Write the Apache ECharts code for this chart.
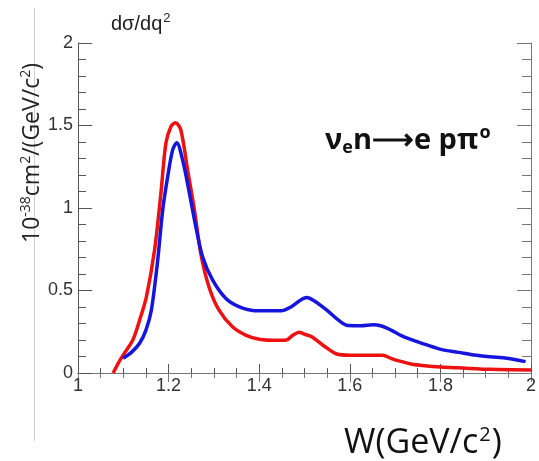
<!DOCTYPE html>
<html>
<head>
<meta charset="utf-8">
<script src="https://cdn.jsdelivr.net/npm/echarts@6/dist/echarts.min.js"></script>
<style>
  html, body { margin: 0; padding: 0; background: #fff; }
  #chart { width: 539px; height: 461px; }
</style>
</head>
<body>
<div id="chart"></div>
<script>
// W (GeV/c^2) and dσ/dq² (10^-38 cm²/(GeV/c²)) for the two model curves
const redW = [1.0775, 1.09, 1.10, 1.121, 1.136, 1.151, 1.169, 1.183, 1.194, 1.205, 1.215, 1.227, 1.242, 1.257, 1.271, 1.289, 1.311, 1.341, 1.37, 1.40, 1.44, 1.46, 1.475, 1.488, 1.50, 1.516, 1.54, 1.571, 1.60, 1.673, 1.69, 1.706, 1.735, 1.765, 1.80, 1.838, 1.911, 2.0];
const redV = [0, 0.065, 0.11, 0.20, 0.32, 0.462, 0.745, 1.089, 1.392, 1.493, 1.517, 1.473, 1.23, 0.988, 0.725, 0.523, 0.382, 0.28, 0.23, 0.205, 0.198, 0.20, 0.23, 0.247, 0.235, 0.22, 0.17, 0.115, 0.108, 0.108, 0.09, 0.075, 0.055, 0.044, 0.036, 0.032, 0.022, 0.018];

const blueW = [1.0995, 1.118, 1.136, 1.150, 1.162, 1.176, 1.187, 1.198, 1.209, 1.218, 1.231, 1.246, 1.26, 1.275, 1.297, 1.326, 1.355, 1.39, 1.45, 1.47, 1.49, 1.505, 1.52, 1.55, 1.575, 1.596, 1.625, 1.651, 1.67, 1.691, 1.715, 1.742, 1.77, 1.801, 1.84, 1.874, 1.91, 1.947, 1.988];
const blueV = [0.089, 0.125, 0.18, 0.26, 0.382, 0.685, 0.988, 1.19, 1.352, 1.396, 1.29, 1.089, 0.887, 0.705, 0.564, 0.453, 0.402, 0.378, 0.378, 0.40, 0.44, 0.457, 0.44, 0.38, 0.32, 0.288, 0.287, 0.293, 0.285, 0.26, 0.225, 0.196, 0.17, 0.143, 0.125, 0.109, 0.098, 0.089, 0.069];

const xTicks = { min: 1, max: 2, interval: 0.2 };
const yTicks = { min: 0, max: 2, interval: 0.5 };

const pairs = (xs, ys) => xs.map((x, i) => [x, ys[i]]);

const axisGrey = '#555';
const frameGrey = '#777';
const labelFont = { fontFamily: 'Liberation Sans', fontSize: 18, color: '#333' };

const chart = echarts.init(document.getElementById('chart'));
chart.setOption({
  animation: false,
  backgroundColor: '#fff',
  grid: { left: 78, right: 5, top: 43, bottom: 88 },
  graphic: [
    {
      type: 'line',
      shape: { x1: 34.5, y1: 8, x2: 34.5, y2: 441 },
      style: { stroke: '#d0d0d0', lineWidth: 1 }
    },
    {
      // plot title
      type: 'text', x: 111, y: 36,
      style: {
        text: '{a|dσ/dq}{s|2}',
        textVerticalAlign: 'bottom',
        rich: {
          a: { fontFamily: 'Liberation Sans', fontSize: 20, fill: '#222' },
          s: { fontFamily: 'Liberation Sans', fontSize: 13, fill: '#222', padding: [0, 0, 11, 1] }
        }
      }
    },
    {
      // y-axis units, rotated
      type: 'text', x: 45, y: 153, rotation: Math.PI / 2,
      style: {
        text: '{a|10}{s|-38}{a|cm}{s|2}{a|/(GeV/c}{s|2}{a|)}',
        textAlign: 'center', textVerticalAlign: 'bottom',
        rich: {
          a: { fontFamily: 'Open Sans', fontSize: 23, fill: '#222' },
          s: { fontFamily: 'Open Sans', fontSize: 14, fill: '#222', padding: [0, 0, 12, 0] }
        }
      }
    },
    {
      // reaction label
      type: 'text', x: 325, y: 157,
      style: {
        text: '{a|ν}{b|e}{a|n⟶e pπ}{c|o}',
        textVerticalAlign: 'bottom',
        rich: {
          a: { fontFamily: 'Open Sans', fontWeight: 'bold', fontSize: 29, fill: '#111' },
          b: { fontFamily: 'Open Sans', fontWeight: 'bold', fontSize: 18, fill: '#111', padding: [14, 0, 0, 0] },
          c: { fontFamily: 'Open Sans', fontWeight: 'bold', fontSize: 18, fill: '#111', padding: [0, 0, 15, 1] }
        }
      }
    },
    {
      // x-axis title
      type: 'text', x: 344, y: 461,
      style: {
        text: '{a|W(GeV/c}{s|2}{a|)}',
        textVerticalAlign: 'bottom',
        rich: {
          a: { fontFamily: 'Open Sans', fontSize: 34, fill: '#111' },
          s: { fontFamily: 'Open Sans', fontSize: 20, fill: '#111', padding: [0, 1, 16, 1] }
        }
      }
    }
  ],
  xAxis: [
    {
      type: 'value', min: xTicks.min, max: xTicks.max, interval: xTicks.interval,
      position: 'bottom',
      axisLine: { lineStyle: { color: axisGrey, width: 1 } },
      axisTick: { inside: true, length: 9, lineStyle: { color: axisGrey } },
      minorTick: { show: true, splitNumber: 4, length: 5, lineStyle: { color: axisGrey } },
      axisLabel: Object.assign({ margin: 4 }, labelFont),
      splitLine: { show: false }
    },
    {
      type: 'value', min: xTicks.min, max: xTicks.max, interval: xTicks.interval,
      position: 'top',
      axisLine: { lineStyle: { color: frameGrey, width: 1 } },
      axisTick: { inside: true, length: 9, lineStyle: { color: frameGrey } },
      minorTick: { show: true, splitNumber: 4, length: 5, lineStyle: { color: frameGrey } },
      axisLabel: { show: false },
      splitLine: { show: false }
    }
  ],
  yAxis: [
    {
      type: 'value', min: yTicks.min, max: yTicks.max, interval: yTicks.interval,
      position: 'left',
      axisLine: { lineStyle: { color: axisGrey, width: 1 } },
      axisTick: { inside: true, length: 14, lineStyle: { color: axisGrey } },
      minorTick: { show: true, splitNumber: 5, length: 8, lineStyle: { color: axisGrey } },
      axisLabel: Object.assign({ margin: 5 }, labelFont),
      splitLine: { show: false }
    },
    {
      type: 'value', min: yTicks.min, max: yTicks.max, interval: yTicks.interval,
      position: 'right',
      axisLine: { lineStyle: { color: frameGrey, width: 1 } },
      axisTick: { inside: true, length: 14, lineStyle: { color: frameGrey } },
      minorTick: { show: true, splitNumber: 5, length: 9, lineStyle: { color: frameGrey } },
      axisLabel: { show: false },
      splitLine: { show: false }
    }
  ],
  series: [
    {
      type: 'line', xAxisIndex: 0, yAxisIndex: 0,
      data: pairs(redW, redV), smooth: 0.3, showSymbol: false,
      lineStyle: { color: '#ee1111', width: 3.5 }, z: 3
    },
    {
      type: 'line', xAxisIndex: 0, yAxisIndex: 0,
      data: pairs(blueW, blueV), smooth: 0.3, showSymbol: false,
      lineStyle: { color: '#1515dd', width: 3.5 }, z: 4
    }
  ]
});
</script>
</body>
</html>
